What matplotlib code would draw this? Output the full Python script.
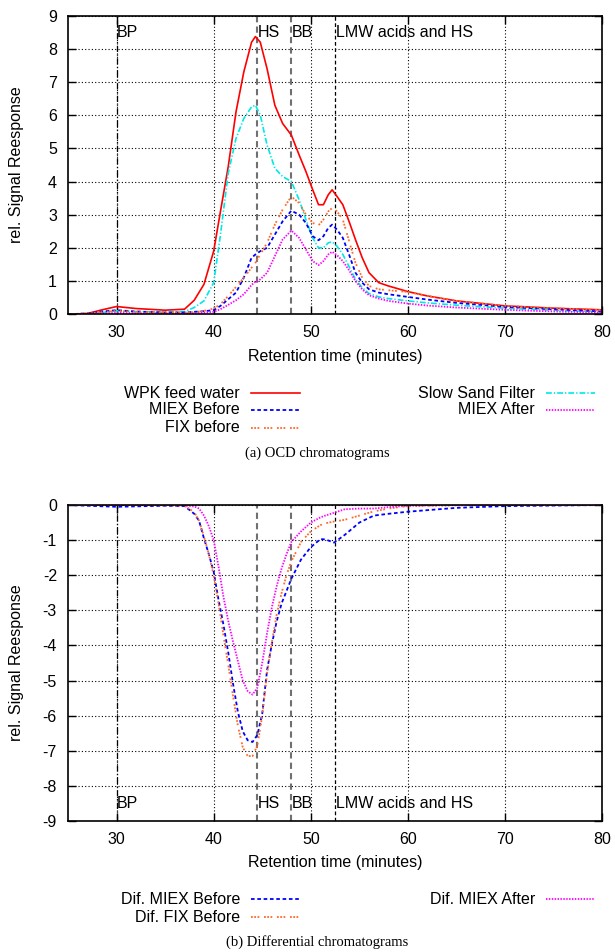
import matplotlib
matplotlib.use("Agg")
import matplotlib.pyplot as plt
from matplotlib.lines import Line2D

plt.rcParams["font.family"] = ["Liberation Sans", "DejaVu Sans"]
plt.rcParams["axes.unicode_minus"] = False

# ---- data: (a) OCD chromatograms ----
time_a = [25, 27, 28.5, 30, 32, 35, 37, 38, 39, 40, 40.7, 41.5, 42.3, 43.1, 43.9, 44.3,
          44.8, 45.5, 46.3, 47.1, 48, 48.8, 49.5, 50.2, 50.8, 51.3, 51.8, 52.2, 52.7,
          53.3, 54, 54.6, 55.3, 56, 57, 58, 60, 62, 65, 70, 75, 80]
wpk_feed = [0, 0.02, 0.13, 0.23, 0.17, 0.12, 0.15, 0.42, 0.9, 1.9, 3.1, 4.45, 6.1, 7.3,
            8.2, 8.37, 8.2, 7.4, 6.3, 5.75, 5.4, 4.8, 4.3, 3.75, 3.3, 3.3, 3.6, 3.75,
            3.55, 3.3, 2.75, 2.25, 1.7, 1.25, 0.95, 0.85, 0.68, 0.55, 0.4, 0.25, 0.18, 0.13]
slow_sand = [0, 0, 0.05, 0.1, 0.08, 0.06, 0.08, 0.2, 0.4, 0.95, 2.4, 4.25, 5.3, 5.9,
             6.25, 6.3, 6.0, 5.1, 4.4, 4.15, 4.0, 3.45, 2.85, 2.3, 2.0, 2.0, 2.15, 2.18,
             2.05, 1.8, 1.4, 1.05, 0.8, 0.62, 0.52, 0.47, 0.4, 0.34, 0.27, 0.18, 0.12, 0.07]
miex_before = [0, 0.02, 0.08, 0.12, 0.08, 0.05, 0.05, 0.07, 0.09, 0.12, 0.25, 0.45, 0.65,
               1.1, 1.7, 1.8, 1.9, 2.0, 2.4, 2.8, 3.12, 3.0, 2.75, 2.35, 2.23, 2.35, 2.6,
               2.7, 2.55, 2.3, 1.75, 1.25, 0.95, 0.75, 0.65, 0.6, 0.52, 0.44, 0.34, 0.22,
               0.15, 0.08]
miex_after = [0, 0, 0.02, 0.04, 0.03, 0.02, 0.02, 0.03, 0.05, 0.07, 0.15, 0.28, 0.42, 0.6,
              0.88, 0.98, 1.05, 1.25, 1.75, 2.25, 2.52, 2.3, 1.95, 1.6, 1.48, 1.6, 1.8,
              1.88, 1.78, 1.6, 1.3, 1.0, 0.75, 0.57, 0.47, 0.4, 0.32, 0.26, 0.2, 0.13,
              0.08, 0.05]
fix_before = [0, 0.02, 0.06, 0.1, 0.07, 0.05, 0.05, 0.06, 0.1, 0.17, 0.3, 0.55, 0.82, 1.1,
              1.4, 1.55, 1.8, 2.15, 2.7, 3.15, 3.55, 3.35, 3.0, 2.75, 2.68, 2.85, 3.1,
              3.2, 3.1, 2.85, 2.15, 1.55, 1.1, 0.85, 0.75, 0.72, 0.67, 0.55, 0.4, 0.25,
              0.18, 0.12]

# ---- data: (b) differential chromatograms ----
time_b = [25, 30, 35, 37, 38, 38.5, 39, 39.5, 40, 40.5, 41, 41.5, 42, 42.5, 43, 43.5, 44,
          44.5, 45, 45.5, 46, 46.5, 47, 47.5, 48, 49, 50, 51, 51.5, 52.4, 53.5, 55, 56.5,
          58, 60, 65, 70, 80]
dif_miex_before = [0, -0.05, -0.02, -0.03, -0.25, -0.45, -0.95, -1.4, -1.9, -2.7, -3.4,
                   -4.2, -5.1, -5.9, -6.45, -6.7, -6.75, -6.55, -5.95, -4.7, -3.95, -3.3,
                   -2.8, -2.45, -2.1, -1.55, -1.2, -0.97, -0.98, -1.07, -0.85, -0.5, -0.3,
                   -0.25, -0.19, -0.08, -0.03, 0]
dif_fix_before = [0, 0, -0.01, -0.02, -0.2, -0.45, -0.9, -1.4, -2.0, -2.8, -3.7, -4.55,
                  -5.45, -6.3, -6.9, -7.15, -7.15, -6.85, -6.0, -4.8, -3.9, -3.1, -2.5,
                  -2.0, -1.6, -1.05, -0.75, -0.57, -0.52, -0.47, -0.42, -0.3, -0.18, -0.1,
                  -0.03, -0.01, 0, 0]
dif_miex_after = [0, 0, 0, -0.01, -0.04, -0.1, -0.3, -0.6, -1.0, -1.75, -2.6, -3.3, -3.9,
                  -4.45, -5.0, -5.3, -5.4, -5.2, -4.5, -3.65, -2.9, -2.3, -1.8, -1.4, -1.05,
                  -0.75, -0.5, -0.35, -0.3, -0.22, -0.12, -0.1, -0.1, -0.06, -0.02, 0, 0, 0]

regions = ["BP", "HS", "BB", "LMW acids and HS"]
region_starts = [30, 44.5, 48, 52.5]

FS = 11.5
RED = "#ff0000"
CYAN = "#00e8e8"
BLUE = "#0000ff"
MAGENTA = "#ff00ff"
ORANGE = "#ff6a2a"

styles = {
    "red": dict(color=RED, lw=1.2, ls="-"),
    "cyan": dict(color=CYAN, lw=1.2, ls=(0, (3.5, 1.2, 0.8, 1.2))),
    "blue": dict(color=BLUE, lw=1.3, ls=(0, (2, 1.5))),
    "magenta": dict(color=MAGENTA, lw=1.3, ls=(0, (0.8, 0.8))),
    "orange": dict(color=ORANGE, lw=1.3, ls=(0, (1, 0.8, 1, 0.8, 1, 2.6))),
}


def style_axes(ax, ylim, yticks):
    ax.set_xlim(25, 80)
    ax.set_ylim(*ylim)
    ax.set_xticks([30, 40, 50, 60, 70, 80])
    ax.set_yticks(yticks)
    ax.tick_params(direction="in", length=6, width=1, top=True, right=True,
                   labelsize=FS, pad=8)
    for s in ax.spines.values():
        s.set_linewidth(1.2)
    ax.grid(True, color="black", ls=(0, (1, 2)), lw=0.8)
    ax.set_axisbelow(True)
    ax.axvline(region_starts[0], color="black", lw=0.9, ls=(0, (5, 2, 1, 2)))
    ax.axvline(region_starts[1], color="#707070", lw=1.5, ls=(0, (3, 2)))
    ax.axvline(region_starts[2], color="#707070", lw=1.5, ls=(0, (3, 2)))
    ax.axvline(region_starts[3], color="black", lw=0.9, ls=(0, (3, 2)))
    ax.set_xlabel("Retention time (minutes)", fontsize=FS, labelpad=6)
    ax.set_ylabel("rel. Signal Reesponse", fontsize=FS)
    ax.yaxis.set_label_coords(-0.082, 0.5)


def legend_entry(fig, text, x_right, y, style):
    W, H = 615.0, 952.0
    fig.text(x_right / W, 1 - y / H, text, ha="right", va="center", fontsize=FS)
    fig.add_artist(Line2D([(x_right + 11) / W, (x_right + 60) / W], [1 - y / H] * 2,
                          transform=fig.transFigure, **style))


fig = plt.figure(figsize=(6.15, 9.52), dpi=100)
ax1 = fig.add_axes([0.1106, 0.670, 0.8684, 0.3135])
ax2 = fig.add_axes([0.1106, 0.1376, 0.8684, 0.3319])

style_axes(ax1, (0, 9), range(0, 10))
ax1.plot(time_a, wpk_feed, **styles["red"])
ax1.plot(time_a, slow_sand, **styles["cyan"])
ax1.plot(time_a, miex_before, **styles["blue"])
ax1.plot(time_a, miex_after, **styles["magenta"])
ax1.plot(time_a, fix_before, **styles["orange"])
for name, x0 in zip(regions, region_starts):
    ax1.text(x0 + 0.05, 8.5, name, ha="left", va="center", fontsize=FS)

style_axes(ax2, (-9, 0), range(-9, 1))
ax2.plot(time_b, dif_miex_before, **styles["blue"])
ax2.plot(time_b, dif_fix_before, **styles["orange"])
ax2.plot(time_b, dif_miex_after, **styles["magenta"])
for name, x0 in zip(regions, region_starts):
    ax2.text(x0 + 0.05, -8.5, name, ha="left", va="center", fontsize=FS)

legend_entry(fig, "WPK feed water", 240, 393, styles["red"])
legend_entry(fig, "MIEX Before", 240, 410, styles["blue"])
legend_entry(fig, "FIX before", 240, 428, styles["orange"])
legend_entry(fig, "Slow Sand Filter", 535, 393, styles["cyan"])
legend_entry(fig, "MIEX After", 535, 410, styles["magenta"])
fig.text(317 / 615, 1 - 453 / 952, "(a) OCD chromatograms", ha="center", va="center",
         fontsize=10.5, family="Liberation Serif")

legend_entry(fig, "Dif. MIEX Before", 240, 899, styles["blue"])
legend_entry(fig, "Dif. FIX Before", 240, 917, styles["orange"])
legend_entry(fig, "Dif. MIEX After", 535, 899, styles["magenta"])
fig.text(317 / 615, 1 - 942 / 952, "(b) Differential chromatograms", ha="center",
         va="center", fontsize=10.5, family="Liberation Serif")

fig.savefig("out.png", dpi=100)
